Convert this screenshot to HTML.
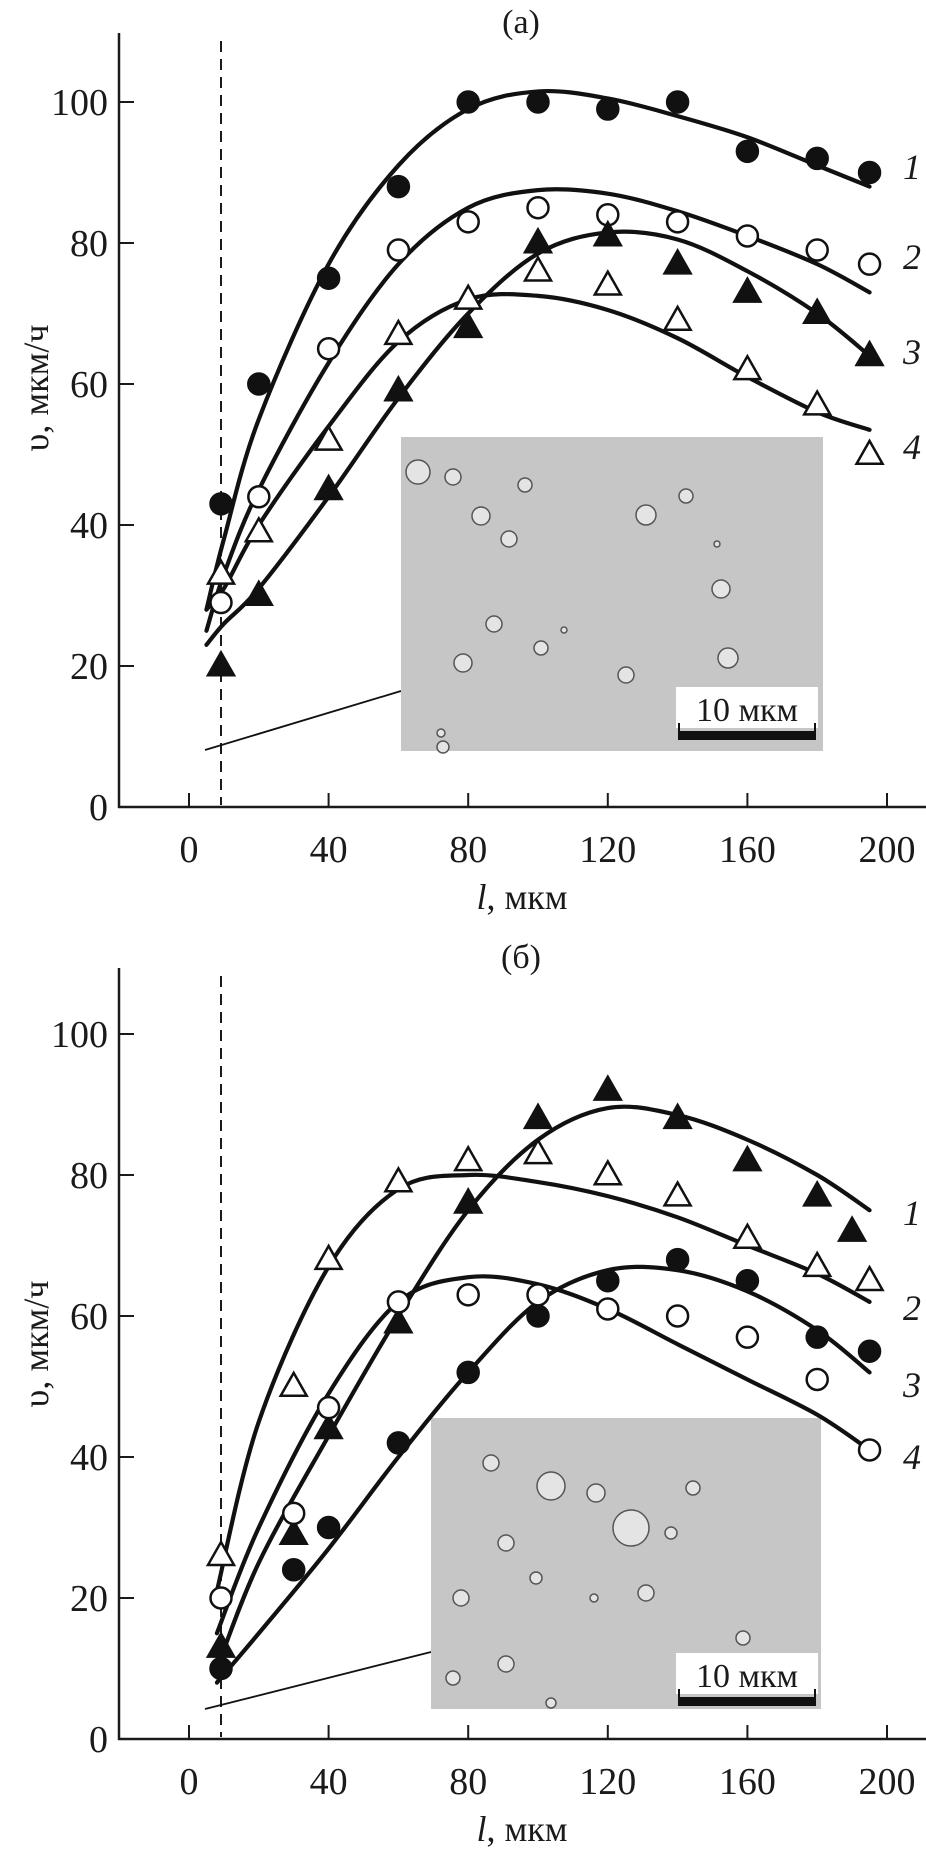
<!DOCTYPE html>
<html><head><meta charset="utf-8"><style>
html,body{margin:0;padding:0;background:#fff}
svg{display:block}
text{font-family:"Liberation Serif",serif;fill:#1a1a1a}
</style></head><body>
<svg id="s" width="926" height="1854" viewBox="0 0 926 1854" xmlns="http://www.w3.org/2000/svg">
<g id="g"></g>
</svg>
<script>
const NS="http://www.w3.org/2000/svg";
const g=document.getElementById('g');
function el(t,a,txt){const e=document.createElementNS(NS,t);for(const k in a)e.setAttribute(k,a[k]);if(txt!=null)e.textContent=txt;g.appendChild(e);return e;}
const X=l=>189+3.49*l;
function spline(pts){let d="M"+pts[0][0]+","+pts[0][1];for(let i=0;i<pts.length-1;i++){const p0=pts[i-1]||pts[i],p1=pts[i],p2=pts[i+1],p3=pts[i+2]||p2;
const c1=[p1[0]+(p2[0]-p0[0])/6,p1[1]+(p2[1]-p0[1])/6],c2=[p2[0]-(p3[0]-p1[0])/6,p2[1]-(p3[1]-p1[1])/6];
d+=` C${c1[0]},${c1[1]} ${c2[0]},${c2[1]} ${p2[0]},${p2[1]}`;}return d;}
function mx(l){return l===10?221:X(l);}
function marker(type,x,y){
 if(type[0]==='c'){el('circle',{cx:x,cy:y,r:10.5,fill:type==='cf'?'#111':'#fff',stroke:'#111','stroke-width':2.5});}
 else{const h=22,w=26;el('polygon',{points:`${x},${y-h*0.62} ${x-w/2},${y+h*0.42} ${x+w/2},${y+h*0.42}`,fill:type==='tf'?'#111':'#fff',stroke:'#111','stroke-width':2.5,'stroke-linejoin':'miter'});}
}
function panel(o){
 const Y=v=>o.y0-7.05*v;
 // axes
 el('line',{x1:119,y1:o.top,x2:119,y2:o.y0+1,stroke:'#1a1a1a','stroke-width':2.5});
 el('line',{x1:118,y1:o.y0,x2:926,y2:o.y0,stroke:'#1a1a1a','stroke-width':2.5});
 for(let v=0;v<=100;v+=20){el('line',{x1:119,y1:Y(v),x2:134,y2:Y(v),stroke:'#1a1a1a','stroke-width':2});
  el('text',{x:108,y:Y(v)+13,'font-size':38,'text-anchor':'end'},String(v));}
 for(let l=0;l<=200;l+=40){el('line',{x1:X(l),y1:o.y0,x2:X(l),y2:o.y0-14,stroke:'#1a1a1a','stroke-width':2});
  el('text',{x:X(l),y:o.y0+55,'font-size':38,'text-anchor':'middle'},String(l));}
 el('line',{x1:221,y1:o.top+8,x2:221,y2:o.y0-2,stroke:'#1a1a1a','stroke-width':2,'stroke-dasharray':'11,7'});
 const t=el('text',{x:522,y:o.y0+102,'font-size':36,'text-anchor':'middle'});
 const ti=document.createElementNS(NS,'tspan');ti.setAttribute('font-style','italic');ti.textContent='l';t.appendChild(ti);t.appendChild(document.createTextNode(', мкм'));
 el('text',{x:0,y:0,'font-size':36,'text-anchor':'middle',transform:`translate(48,${o.ylab}) rotate(-90)`},'υ, мкм/ч');
 el('text',{x:521,y:o.top+0,'font-size':34,'text-anchor':'middle'},o.title);
 // inset
 const I=o.inset;
 el('line',{x1:I.lx,y1:I.ly,x2:I.x,y2:I.ly2,stroke:'#111','stroke-width':1.8});
 el('rect',{x:I.x,y:I.y,width:I.w,height:I.h,fill:'#c6c6c6'});
 for(const d of I.drops){el('circle',{cx:I.x+d[0],cy:I.y+d[1],r:d[2],fill:'#e4e4e4',stroke:'#555','stroke-width':1.5});}
 el('rect',{x:676,y:I.by,width:142,height:41,fill:'#fff'});
 el('text',{x:747,y:I.by+34,'font-size':34,'text-anchor':'middle'},'10 мкм');
 el('rect',{x:678,y:I.by+44,width:138,height:9,fill:'#111'});
 el('line',{x1:679,y1:I.by+36,x2:679,y2:I.by+48,stroke:'#111','stroke-width':2});
 el('line',{x1:815,y1:I.by+36,x2:815,y2:I.by+48,stroke:'#111','stroke-width':2});
 // curves
 for(const c of o.curves){el('path',{d:spline(c.map(p=>[X(p[0]),Y(p[1])])),fill:'none',stroke:'#111','stroke-width':4.2,'stroke-linecap':'round'});}
 for(const s of o.series){for(const p of s.d)marker(s.t,mx(p[0]),Y(p[1]));}
 o.labels.forEach((y,i)=>el('text',{x:903,y:y+12,'font-size':36,'font-style':'italic'},String(i+1)));
}
const lsA=[5,10,20,40,60,80,100,120,140,160,180,195];
panel({y0:807,top:33,title:'(а)',ylab:388,
 inset:{x:401,y:437,w:422,h:314,lx:205,ly:750,ly2:691,by:687,
  drops:[[17,35,12],[52,40,8],[124,48,7],[80,79,9],[108,102,8],[245,78,10],[285,59,7],[320,152,9],[93,187,8],[140,211,7],[327,221,10],[62,226,9],[225,238,8],[42,310,6],[316,107,3],[163,193,3],[40,296,4]]},
 curves:[
  [[5,28],[10,38],[20,55],[40,77],[60,91],[80,99],[100,101.5],[120,100.5],[140,98],[160,95],[180,91],[195,88]],
  [[5,25],[10,33],[20,45],[40,63],[60,77],[80,85],[100,87.5],[120,87],[140,84.5],[160,81],[180,77],[195,73]],
  [[5,23],[10,26],[20,31],[40,44],[60,58],[80,70],[100,78.5],[120,81.5],[140,80.5],[160,76],[180,70],[195,64]],
  [[5,28],[10,31],[20,40],[40,54],[60,66],[80,72],[100,72.5],[120,70.5],[140,66.5],[160,61],[180,56],[195,53.5]]],
 series:[
  {t:'cf',d:[[10,43],[20,60],[40,75],[60,88],[80,100],[100,100],[120,99],[140,100],[160,93],[180,92],[195,90]]},
  {t:'co',d:[[10,29],[20,44],[40,65],[60,79],[80,83],[100,85],[120,84],[140,83],[160,81],[180,79],[195,77]]},
  {t:'tf',d:[[10,20],[20,30],[40,45],[60,59],[80,68],[100,80],[120,81],[140,77],[160,73],[180,70],[195,64]]},
  {t:'to',d:[[10,33],[20,39],[40,52],[60,67],[80,72],[100,76],[120,74],[140,69],[160,62],[180,57],[195,50]]}],
 labels:[167,257,352,447]});
panel({y0:1739,top:968,title:'(б)',ylab:1344,
 inset:{x:431,y:1418,w:390,h:291,lx:205,ly:1709,ly2:1652,by:1653,
  drops:[[60,45,8],[120,68,14],[165,75,9],[75,125,8],[200,110,18],[262,70,7],[215,175,8],[312,220,7],[30,180,8],[105,160,6],[75,246,8],[22,260,7],[120,285,5],[240,115,6],[163,180,4]]},
 curves:[
  [[8,10],[20,25],[40,43],[60,60],[80,75],[100,85],[120,89.5],[140,88.5],[160,85],[180,80],[195,75]],
  [[8,21],[20,45],[40,67],[60,78],[80,80],[100,79],[120,77],[140,74],[160,70],[180,66],[195,62]],
  [[8,8],[20,15],[40,27],[60,40],[80,52],[100,62],[120,66.5],[140,66.5],[160,63.5],[180,58],[195,52]],
  [[8,15],[20,30],[40,49],[60,62],[80,65.5],[100,64.5],[120,61],[140,56],[160,51],[180,46],[195,41]]],
 series:[
  {t:'tf',d:[[10,13],[30,29],[40,44],[60,59],[80,76],[100,88],[120,92],[140,88],[160,82],[180,77],[190,72]]},
  {t:'to',d:[[10,26],[30,50],[40,68],[60,79],[80,82],[100,83],[120,80],[140,77],[160,71],[180,67],[195,65]]},
  {t:'cf',d:[[10,10],[30,24],[40,30],[60,42],[80,52],[100,60],[120,65],[140,68],[160,65],[180,57],[195,55]]},
  {t:'co',d:[[10,20],[30,32],[40,47],[60,62],[80,63],[100,63],[120,61],[140,60],[160,57],[180,51],[195,41]]}],
 labels:[1213,1308,1385,1457]});
</script>
</body></html>
